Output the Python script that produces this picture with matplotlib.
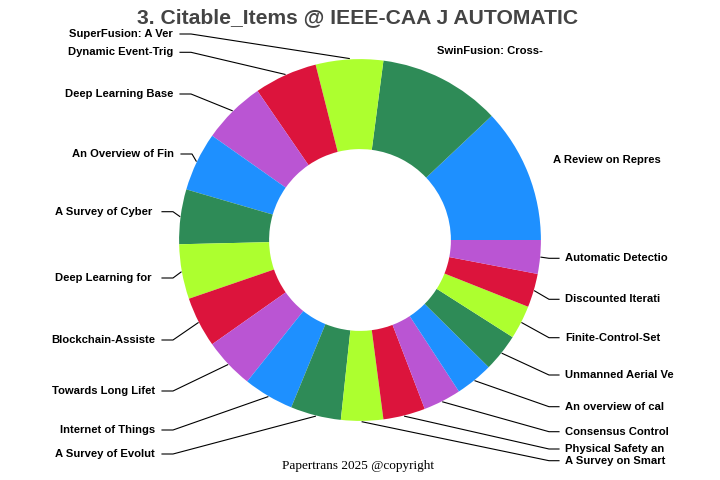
import numpy as np
import matplotlib
matplotlib.use("Agg")
import matplotlib.pyplot as plt

# ---------------------------------------------------------------------------
# Data
# ---------------------------------------------------------------------------
labels = [
    "A Review on Repres", "SwinFusion: Cross-", "SuperFusion: A Ver",
    "Dynamic Event-Trig", "Deep Learning Base", "An Overview of Fin",
    "A Survey of Cyber ", "Deep Learning for ", "Blockchain-Assiste",
    "Towards Long Lifet", "Internet of Things", "A Survey of Evolut",
    "A Survey on Smart", "Physical Safety an", "Consensus Control",
    "An overview of cal", "Unmanned Aerial Ve", "Finite-Control-Set",
    "Discounted Iterati", "Automatic Detectio",
]
citable_items = [32, 29, 16, 15, 15, 14, 13, 13, 12, 12,
                 12, 12, 10, 10, 9, 9, 9, 8, 8, 8]
palette = ["#1E90FF", "#2E8B57", "#ADFF2F", "#DC143C", "#BA55D3"]

TITLE = "3. Citable_Items @ IEEE-CAA J AUTOMATIC"
FOOTER = "Papertrans 2025 @copyright"

# ---------------------------------------------------------------------------
# Layout (pixel coordinates of the 720x480 canvas)
# ---------------------------------------------------------------------------
W, H = 720, 480
CX, CY, R_PX = 360, 240, 180

# label rows: index -> y pixel (left side right-aligned, right side left-aligned)
left_rows = {2: 34, 3: 52.3, 4: 94, 5: 154, 6: 211.7, 7: 278,
             8: 340, 9: 391, 10: 430, 11: 454}
left_text_end = {2: 173, 3: 173, 4: 173, 5: 174}   # others use 155
right_rows = {12: 460.7, 13: 449, 14: 431.7, 15: 406.7, 16: 375,
              17: 337.7, 18: 299.3, 19: 258.3}
RIGHT_TEXT_X = 565
free_labels = {0: (553, 160), 1: (437, 51)}   # no leader line


def dx(px):
    return (px - CX) / R_PX


def dy(py):
    return (CY - py) / R_PX


fig = plt.figure(figsize=(W / 100, H / 100), dpi=100)
ax = fig.add_axes([0, 0, 1, 1])

colors = [palette[i % len(palette)] for i in range(len(citable_items))]
wedges, _ = ax.pie(citable_items, colors=colors, startangle=0,
                   counterclock=True, radius=1.005,
                   wedgeprops=dict(width=0.5, linewidth=0))
ax.set_xlim(-W / 2 / R_PX, W / 2 / R_PX)
ax.set_ylim(-H / 2 / R_PX, H / 2 / R_PX)
ax.set_aspect("equal")
ax.axis("off")

lab_font = dict(family="Liberation Sans", fontsize=8.1, fontweight="bold",
                color="black")

for i, w in enumerate(wedges):
    mid = np.deg2rad((w.theta1 + w.theta2) / 2)
    ex, ey = 1.01 * np.cos(mid), 1.01 * np.sin(mid)
    if i in free_labels:
        x, y = free_labels[i]
        ax.text(dx(x), dy(y), labels[i], ha="left", va="center", **lab_font)
    elif i in left_rows:
        y = left_rows[i]
        end = left_text_end.get(i, 155)
        ax.plot([ex, dx(end + 18), dx(end + 7)], [ey, dy(y), dy(y)],
                color="black", lw=0.8)
        ax.text(dx(end), dy(y), labels[i], ha="right", va="center", **lab_font)
    else:
        y = right_rows[i]
        ax.plot([ex, dx(RIGHT_TEXT_X - 16), dx(RIGHT_TEXT_X - 6)],
                [ey, dy(y), dy(y)], color="black", lw=0.8)
        ax.text(dx(RIGHT_TEXT_X), dy(y), labels[i], ha="left", va="center",
                **lab_font)

fig.text(358 / W, 1 - 18 / H, TITLE, ha="center", va="center",
         family="Liberation Sans", fontsize=15.2, fontweight="bold",
         color="#444444")
fig.text(358 / W, 1 - 466 / H, FOOTER, ha="center", va="center",
         family="Liberation Serif", fontsize=9.5, color="black")

fig.savefig("out.png", dpi=100)
